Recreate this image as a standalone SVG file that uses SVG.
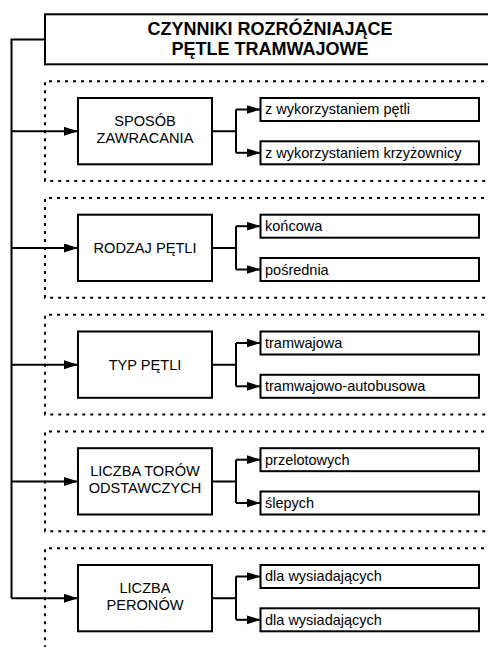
<svg xmlns="http://www.w3.org/2000/svg" width="488" height="647" viewBox="0 0 488 647">
<defs>
<style>
text{font-family:"Liberation Sans",Arial,sans-serif;fill:#000}
.title{font-size:18px;font-weight:bold;text-anchor:middle}
.nt{font-size:14.6px;text-anchor:middle}
.st{font-size:14.5px}
.box{fill:#fff;stroke:#000;stroke-width:2}
.con{fill:none;stroke:#000;stroke-width:2}
.dot{fill:none;stroke:#000;stroke-width:2;stroke-dasharray:3 5}
</style>
<marker id="ah" markerUnits="userSpaceOnUse" markerWidth="15" markerHeight="10" refX="14" refY="4.5" orient="auto">
<path d="M0,0 L14,4.5 L0,9 z" fill="#000"/>
</marker>
</defs>
<rect width="488" height="647" fill="#fff"/>

<g id="groups">
<path class="dot" d="M500,81.3 H45 V181 H500"/>
<path class="dot" d="M500,198 H45 V297.8 H500"/>
<path class="dot" d="M500,314.8 H45 V414.5 H500"/>
<path class="dot" d="M500,431.5 H45 V531.2 H500"/>
<path class="dot" d="M500,548.3 H45 V647"/>
</g>

<g id="connectors">
<path class="con" d="M45,39.5 H11.5 V598.3"/>
<path class="con" marker-end="url(#ah)" d="M11.5,131.3 H78"/>
<path class="con" marker-end="url(#ah)" d="M11.5,248 H78"/>
<path class="con" marker-end="url(#ah)" d="M11.5,364.8 H78"/>
<path class="con" marker-end="url(#ah)" d="M11.5,481.5 H78"/>
<path class="con" marker-end="url(#ah)" d="M11.5,598.3 H78"/>
<g transform="translate(0,81.3)">
<path class="con" d="M212,50 H236 M236,28.2 V71.5"/>
<path class="con" marker-end="url(#ah)" d="M236,28.2 H260.5"/>
<path class="con" marker-end="url(#ah)" d="M236,71.5 H260.5"/>
</g>
<g transform="translate(0,198)">
<path class="con" d="M212,50 H236 M236,28.2 V71.5"/>
<path class="con" marker-end="url(#ah)" d="M236,28.2 H260.5"/>
<path class="con" marker-end="url(#ah)" d="M236,71.5 H260.5"/>
</g>
<g transform="translate(0,314.8)">
<path class="con" d="M212,50 H236 M236,28.2 V71.5"/>
<path class="con" marker-end="url(#ah)" d="M236,28.2 H260.5"/>
<path class="con" marker-end="url(#ah)" d="M236,71.5 H260.5"/>
</g>
<g transform="translate(0,431.5)">
<path class="con" d="M212,50 H236 M236,28.2 V71.5"/>
<path class="con" marker-end="url(#ah)" d="M236,28.2 H260.5"/>
<path class="con" marker-end="url(#ah)" d="M236,71.5 H260.5"/>
</g>
<g transform="translate(0,548.3)">
<path class="con" d="M212,50 H236 M236,28.2 V71.5"/>
<path class="con" marker-end="url(#ah)" d="M236,28.2 H260.5"/>
<path class="con" marker-end="url(#ah)" d="M236,71.5 H260.5"/>
</g>
</g>

<g id="title">
<rect class="box" x="45" y="14.3" width="460" height="50"/>
<text class="title" x="270" y="34.8">CZYNNIKI ROZRÓŻNIAJĄCE</text>
<text class="title" x="270" y="54.8">PĘTLE TRAMWAJOWE</text>
</g>

<g id="n1" transform="translate(0,81.3)">
<rect class="box" x="78" y="16.7" width="134" height="66.3"/>
<text class="nt" x="145" y="44.7">SPOSÓB</text>
<text class="nt" x="145" y="61.9">ZAWRACANIA</text>
</g>
<g id="n1a" transform="translate(0,81.3)">
<rect class="box" x="260.5" y="16.7" width="218.5" height="23"/>
<text class="st" x="265" y="33.2">z wykorzystaniem pętli</text>
</g>
<g id="n1b" transform="translate(0,81.3)">
<rect class="box" x="260.5" y="60" width="218.5" height="23"/>
<text class="st" x="265" y="76.5">z wykorzystaniem krzyżownicy</text>
</g>

<g id="n2" transform="translate(0,198)">
<rect class="box" x="78" y="16.7" width="134" height="66.3"/>
<text class="nt" x="145" y="55">RODZAJ PĘTLI</text>
</g>
<g id="n2a" transform="translate(0,198)">
<rect class="box" x="260.5" y="16.7" width="218.5" height="23"/>
<text class="st" x="265" y="33.2">końcowa</text>
</g>
<g id="n2b" transform="translate(0,198)">
<rect class="box" x="260.5" y="60" width="218.5" height="23"/>
<text class="st" x="265" y="76.5">pośrednia</text>
</g>

<g id="n3" transform="translate(0,314.8)">
<rect class="box" x="78" y="16.7" width="134" height="66.3"/>
<text class="nt" x="145" y="55">TYP PĘTLI</text>
</g>
<g id="n3a" transform="translate(0,314.8)">
<rect class="box" x="260.5" y="16.7" width="218.5" height="23"/>
<text class="st" x="265" y="33.2">tramwajowa</text>
</g>
<g id="n3b" transform="translate(0,314.8)">
<rect class="box" x="260.5" y="60" width="218.5" height="23"/>
<text class="st" x="265" y="76.5">tramwajowo-autobusowa</text>
</g>

<g id="n4" transform="translate(0,431.5)">
<rect class="box" x="78" y="16.7" width="134" height="66.3"/>
<text class="nt" x="145" y="44.7">LICZBA TORÓW</text>
<text class="nt" x="145" y="61.9">ODSTAWCZYCH</text>
</g>
<g id="n4a" transform="translate(0,431.5)">
<rect class="box" x="260.5" y="16.7" width="218.5" height="23"/>
<text class="st" x="265" y="33.2">przelotowych</text>
</g>
<g id="n4b" transform="translate(0,431.5)">
<rect class="box" x="260.5" y="60" width="218.5" height="23"/>
<text class="st" x="265" y="76.5">ślepych</text>
</g>

<g id="n5" transform="translate(0,548.3)">
<rect class="box" x="78" y="16.7" width="134" height="66.3"/>
<text class="nt" x="145" y="44.7">LICZBA</text>
<text class="nt" x="145" y="61.9">PERONÓW</text>
</g>
<g id="n5a" transform="translate(0,548.3)">
<rect class="box" x="260.5" y="16.7" width="218.5" height="23"/>
<text class="st" x="265" y="33.2">dla wysiadających</text>
</g>
<g id="n5b" transform="translate(0,548.3)">
<rect class="box" x="260.5" y="60" width="218.5" height="23"/>
<text class="st" x="265" y="76.5">dla wysiadających</text>
</g>
</svg>
